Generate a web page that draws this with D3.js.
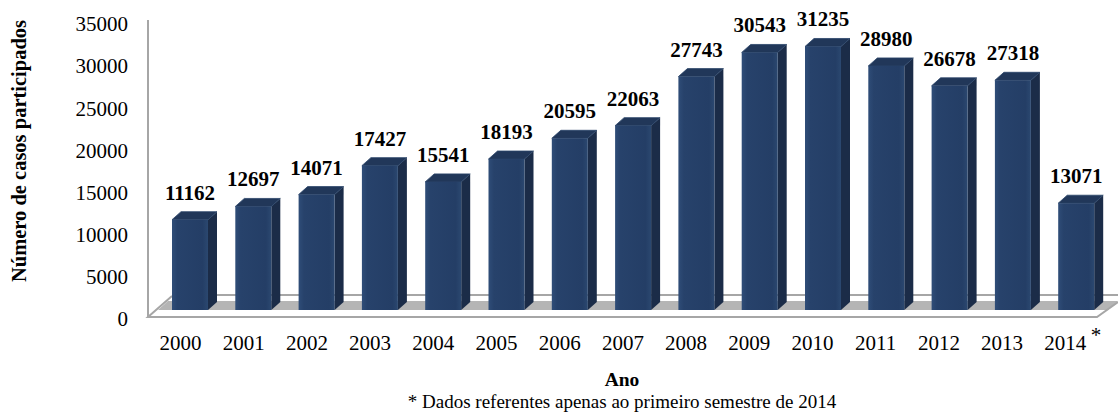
<!DOCTYPE html>
<html>
<head>
<meta charset="utf-8">
<script src="https://cdn.jsdelivr.net/npm/d3@7/dist/d3.min.js"></script>
<style>
	body { margin: 0; background: #fff; }
	svg text { font-family: 'Liberation Serif', 'Times New Roman', serif; fill: #000; }
</style>
</head>
<body>
<div id="chart"></div>
<script>
var years = ['2000', '2001', '2002', '2003', '2004', '2005', '2006', '2007', '2008', '2009', '2010', '2011', '2012', '2013', '2014'];
var cases = [11162, 12697, 14071, 17427, 15541, 18193, 20595, 22063, 27743, 30543, 31235, 28980, 26678, 27318, 13071];
var yTicks = [0, 5000, 10000, 15000, 20000, 25000, 30000, 35000];

const W = 1118;
const H = 414;
const BAR_W = 36;
const DX = 9;
const DY = 8;
const BASE = 310;

var svg = d3.select('#chart').append('svg')
	.attr('width', W)
	.attr('height', H);

var defs = svg.append('defs');
var grad = defs.append('linearGradient').attr('id', 'front').attr('x1', 0).attr('x2', 1).attr('y1', 0).attr('y2', 0);
grad.append('stop').attr('offset', '0%').attr('stop-color', '#2f4d78');
grad.append('stop').attr('offset', '15%').attr('stop-color', '#27426b');
grad.append('stop').attr('offset', '85%').attr('stop-color', '#243e66');
grad.append('stop').attr('offset', '100%').attr('stop-color', '#2b4870');

// x: centre of the bar front face
var x = d3.scalePoint().domain(years).range([190, 190 + 14 * 63.3]);
// y for bars and for tick labels (3D projection shifts them slightly)
var y = d3.scaleLinear().domain([0, 35000]).range([316, 14]);
var yAxisScale = d3.scaleLinear().domain([0, 35000]).range([319, 24]);

// floor
var floor = svg.append('g');
floor.append('polygon')
	.attr('points', '158,310 1108,310 1118,301 168,301')
	.attr('fill', '#b5b5b5');
floor.append('line')
	.attr('x1', 172).attr('y1', 295).attr('x2', 1118).attr('y2', 295)
	.attr('stroke', '#a6a6a6').attr('stroke-width', 2);
floor.append('polyline')
	.attr('points', '172,296 148,317 1097,317 1118,302')
	.attr('fill', 'none')
	.attr('stroke', '#a6a6a6').attr('stroke-width', 2);

// y axis line
svg.append('line')
	.attr('x1', 148).attr('y1', 20).attr('x2', 148).attr('y2', 317)
	.attr('stroke', '#a6a6a6').attr('stroke-width', 2);

var yAxis = d3.axisLeft(yAxisScale).tickValues(yTicks).tickSize(0).tickPadding(20).tickFormat(d3.format('d'));
var gy = svg.append('g')
	.attr('transform', 'translate(148,0)')
	.call(yAxis);
gy.select('.domain').remove();
gy.selectAll('text').style('font-size', '21px').style('font-family', "'Liberation Serif', serif");

// bars
var bars = svg.append('g').selectAll('g').data(years).enter().append('g');

bars.each(function (d, i) {
	var g = d3.select(this);
	var x0 = x(d) - BAR_W / 2;
	var x1 = x0 + BAR_W;
	var yt = y(cases[i]);
	g.append('polygon')
		.attr('points', [[x1, yt], [x1 + DX, yt - DY], [x1 + DX, BASE - DY], [x1, BASE]].join(' '))
		.attr('fill', '#1b2c48');
	g.append('polygon')
		.attr('points', [[x0, yt], [x1, yt], [x1 + DX, yt - DY], [x0 + DX, yt - DY]].join(' '))
		.attr('fill', '#213759')
		.attr('stroke', '#2a4468').attr('stroke-width', 0.8).attr('stroke-linejoin', 'round');
	g.append('rect')
		.attr('x', x0).attr('y', yt)
		.attr('width', BAR_W).attr('height', BASE - yt)
		.attr('fill', 'url(#front)');
	g.append('text')
		.attr('x', x(d))
		.attr('y', yt - 20)
		.attr('text-anchor', 'middle')
		.style('font-size', '21px')
		.style('font-weight', 'bold')
		.text(cases[i]);
});

// x labels
var xAxis = d3.axisBottom(d3.scalePoint().domain(years).range([180, 180 + 14 * 63.2])).tickSize(0).tickPadding(0);
var gx = svg.append('g').attr('transform', 'translate(0,335)').call(xAxis);
gx.select('.domain').remove();
gx.selectAll('text').style('font-size', '21px').style('font-family', "'Liberation Serif', serif");

svg.append('text')
	.attr('x', 1096).attr('y', 342)
	.attr('text-anchor', 'middle')
	.style('font-size', '21px')
	.text('*');

svg.append('text')
	.attr('transform', 'translate(26,151) rotate(-90)')
	.attr('text-anchor', 'middle')
	.style('font-size', '20.5px')
	.style('font-weight', 'bold')
	.text('Número de casos participados');

svg.append('text')
	.attr('x', 622).attr('y', 386)
	.attr('text-anchor', 'middle')
	.style('font-size', '19.5px')
	.style('font-weight', 'bold')
	.text('Ano');

svg.append('text')
	.attr('x', 622).attr('y', 408)
	.attr('text-anchor', 'middle')
	.style('font-size', '19px')
	.text('* Dados referentes apenas ao primeiro semestre de 2014');
</script>
</body>
</html>
